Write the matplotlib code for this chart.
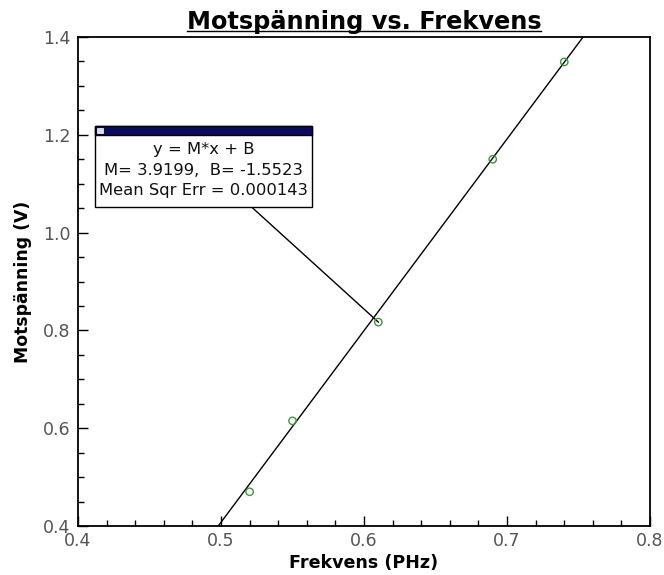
import matplotlib.pyplot as plt
from matplotlib.patches import Rectangle
from matplotlib.lines import Line2D
from matplotlib.ticker import MultipleLocator

plt.rcParams['font.family'] = ['DejaVu Sans']

# measured points
freq = [0.52, 0.55, 0.61, 0.69, 0.74]
volt = [0.470, 0.615, 0.817, 1.150, 1.349]

# fit result shown in the box
M = 3.9199
B = -1.5523
fit_text = ['y = M*x + B', 'M= 3.9199,  B= -1.5523', 'Mean Sqr Err = 0.000143']

fig = plt.figure(figsize=(6.64, 5.75), dpi=100)
ax = fig.add_axes([0.1175, 0.0852, 0.8615, 0.8504])

# fit line across the visible y range
x0 = (0.4 - B) / M
x1 = (1.4 - B) / M
ax.plot([x0, x1], [M * x0 + B, M * x1 + B], color='black', lw=1.0)
ax.scatter(freq, volt, s=28, facecolors='none', edgecolors='#3a9a3a',
           linewidths=1.0, zorder=3)

ax.set_xlim(0.4, 0.8)
ax.set_ylim(0.4, 1.4)
ax.xaxis.set_major_locator(MultipleLocator(0.1))
ax.xaxis.set_minor_locator(MultipleLocator(0.02))
ax.yaxis.set_major_locator(MultipleLocator(0.2))
ax.yaxis.set_minor_locator(MultipleLocator(0.05))
ax.xaxis.set_major_formatter(plt.FormatStrFormatter('%.1f'))
ax.yaxis.set_major_formatter(plt.FormatStrFormatter('%.1f'))
ax.tick_params(which='both', direction='in', top=False, right=False,
               labelsize=12.5, colors='black', labelcolor='#555555')
ax.tick_params(which='major', length=7, width=1)
ax.tick_params(which='minor', length=4, width=1)
ax.tick_params(axis='x', pad=4)
ax.tick_params(axis='y', pad=5.5)
for sp in ax.spines.values():
    sp.set_linewidth(1.3)

title = ax.set_title('Motspänning vs. Frekvens', fontsize=17.3,
                     fontweight='bold', pad=6)
ax.set_xlabel('Frekvens (PHz)', fontsize=12.6, fontweight='bold', labelpad=3)
ax.set_ylabel('Motspänning (V)', fontsize=12.4, fontweight='bold', labelpad=8)

# annotation box
bx0, bx1 = 0.4119, 0.5636
by0, by1 = 1.052, 1.218
bar_h = 0.019
ax.plot([0.5215, 0.61], [by0, 0.817], color='black', lw=1.0, zorder=2)
ax.add_patch(Rectangle((bx0, by0), bx1 - bx0, by1 - by0, facecolor='white',
                       edgecolor='black', lw=1.0, zorder=4))
ax.add_patch(Rectangle((bx0, by1 - bar_h), bx1 - bx0, bar_h, facecolor='#0b0b5e',
                       edgecolor='black', lw=1.0, zorder=5))
ax.add_patch(Rectangle((bx0 + 0.0015, by1 - bar_h + 0.004), 0.004, 0.011,
                       facecolor='#dddddd', edgecolor='white', lw=0.5, zorder=6))
ys = [1.169, 1.128, 1.087]
for t, yy in zip(fit_text, ys):
    ax.text((bx0 + bx1) / 2, yy, t, ha='center', va='center', fontsize=11.8,
            color='#111111', zorder=6)

# underline under the title
fig.canvas.draw()
bb = title.get_window_extent().transformed(fig.transFigure.inverted())
uy = bb.y0 + 0.004
fig.add_artist(Line2D([bb.x0, bb.x1], [uy, uy], color='black', lw=1.0))

fig.savefig('out.png', dpi=100)
